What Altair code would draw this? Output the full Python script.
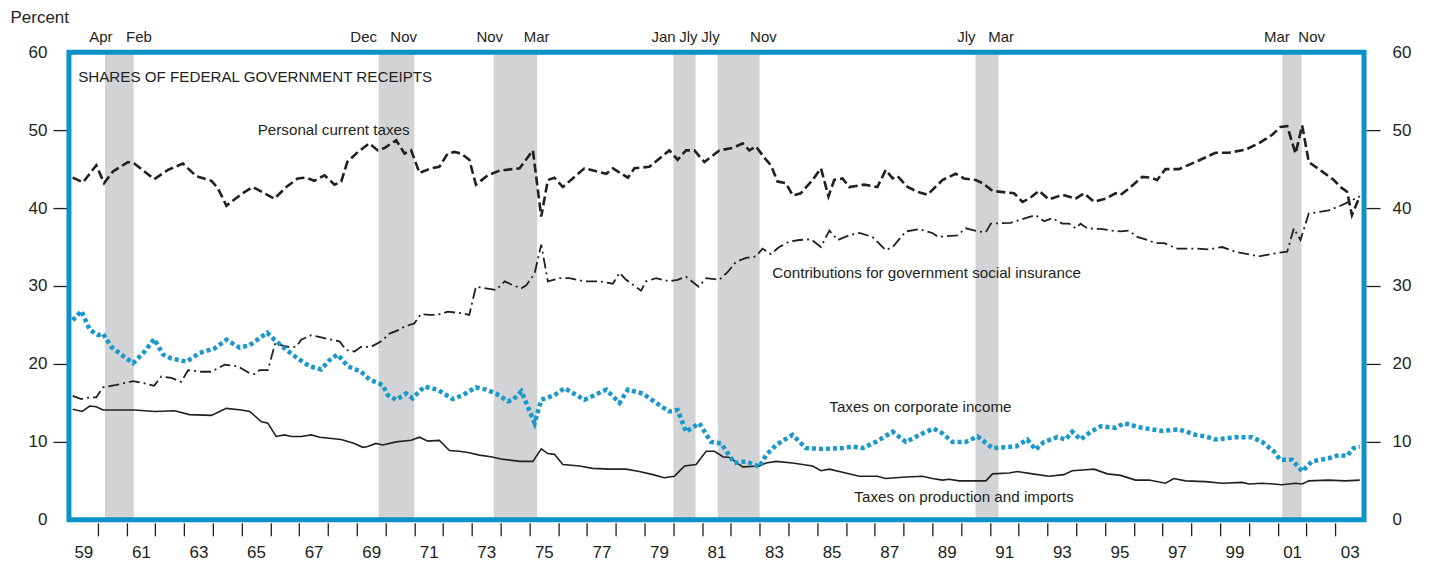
import altair as alt
import pandas as pd

INK = "#231f20"
BLUE = "#0b93c9"
DOT_BLUE = "#1898cd"
GRAY = "#d1d3d4"
NUM_FONT = "Liberation Sans, Arial, sans-serif"
TXT_FONT = "Liberation Sans, Arial, sans-serif"

# ---------------- data ----------------
personal_years = [1959.13, 1959.49, 1959.95, 1960.22, 1960.53, 1961.05, 1961.28, 1961.96, 1962.44, 1962.96,
                  1963.42, 1963.95, 1964.18, 1964.47, 1964.99, 1965.39, 1966.14, 1966.55, 1966.95, 1967.24,
                  1967.53, 1967.88, 1968.23, 1968.46, 1968.67, 1969.04, 1969.44, 1969.73, 1969.96, 1970.37,
                  1970.66, 1970.89, 1971.18, 1971.58, 1971.87, 1972.16, 1972.39, 1972.62, 1972.91, 1973.14,
                  1973.55, 1973.96, 1974.66, 1975.12, 1975.41, 1975.64, 1975.87, 1976.16, 1976.91, 1977.67,
                  1977.90, 1978.42, 1978.65, 1979.17, 1979.86, 1980.15, 1980.44, 1980.73, 1981.08, 1981.60,
                  1982.06, 1982.41, 1982.64, 1982.87, 1983.22, 1983.39, 1983.62, 1983.91, 1984.15, 1984.43,
                  1984.84, 1985.13, 1985.39, 1985.59, 1985.88, 1986.11, 1986.63, 1987.09, 1987.38, 1987.62,
                  1987.79, 1988.14, 1988.48, 1988.83, 1989.35, 1989.81, 1990.10, 1990.51, 1990.74, 1991.09,
                  1991.55, 1991.84, 1992.13, 1992.36, 1992.71, 1993.05, 1993.52, 1993.98, 1994.27, 1994.62,
                  1995.02, 1995.37, 1995.54, 1995.83, 1996.29, 1996.58, 1996.81, 1997.10, 1997.57, 1998.14,
                  1998.84, 1999.30, 1999.88, 2000.34, 2000.81, 2001.09, 2001.33, 2001.62, 2001.85, 2002.08,
                  2002.54, 2002.95, 2003.18, 2003.41, 2003.58, 2003.85]
personal_vals = [43.9, 43.3, 45.5, 43.2, 44.7, 45.9, 45.7, 43.7, 44.9, 45.7,
                 44.1, 43.5, 42.5, 40.3, 41.8, 42.7, 41.2, 42.7, 43.8, 43.9,
                 43.5, 44.2, 43.0, 43.4, 45.9, 47.2, 48.3, 47.4, 47.7, 48.7,
                 47.0, 47.4, 44.5, 45.1, 45.3, 47.0, 47.2, 47.0, 46.2, 43.0,
                 44.2, 44.8, 45.1, 47.4, 38.9, 43.6, 43.9, 42.7, 45.1, 44.4,
                 45.1, 43.9, 45.1, 45.3, 47.4, 46.2, 47.4, 47.4, 45.9, 47.4,
                 47.7, 48.3, 47.4, 47.9, 46.2, 45.5, 43.4, 43.2, 41.6, 41.9,
                 43.6, 45.1, 41.5, 43.6, 43.8, 42.7, 43.0, 42.7, 44.9, 43.8,
                 44.1, 42.7, 42.1, 41.7, 43.6, 44.4, 43.8, 43.6, 43.2, 42.2,
                 42.0, 41.9, 40.8, 41.2, 42.2, 41.1, 41.7, 41.2, 41.9, 40.8,
                 41.2, 41.9, 41.7, 42.5, 44.0, 43.9, 43.6, 45.0, 45.0, 45.9,
                 47.1, 47.1, 47.5, 48.3, 49.4, 50.4, 50.5, 47.0, 50.6, 45.9,
                 44.7, 43.6, 42.7, 42.1, 39.1, 41.5]

contrib_years = [1959.13, 1959.43, 1959.72, 1959.95, 1960.18, 1960.65, 1961.23, 1961.63, 1961.96, 1962.21,
                 1962.56, 1962.90, 1963.14, 1963.60, 1963.95, 1964.41, 1964.87, 1965.28, 1965.45, 1965.62,
                 1965.91, 1966.17, 1966.37, 1966.61, 1966.90, 1967.07, 1967.42, 1967.88, 1968.40, 1968.63,
                 1968.92, 1969.15, 1969.50, 1969.85, 1970.14, 1970.48, 1970.66, 1971.00, 1971.23, 1971.52,
                 1971.81, 1972.16, 1972.68, 1972.91, 1973.14, 1973.49, 1973.84, 1974.14, 1974.43, 1974.72,
                 1974.89, 1975.18, 1975.41, 1975.64, 1976.05, 1976.39, 1976.91, 1977.43, 1977.90, 1978.13,
                 1978.36, 1978.88, 1979.05, 1979.40, 1979.86, 1980.15, 1980.44, 1980.88, 1981.14, 1981.60,
                 1981.89, 1982.18, 1982.53, 1982.87, 1983.10, 1983.39, 1983.68, 1984.03, 1984.38, 1984.78,
                 1985.13, 1985.42, 1985.71, 1986.11, 1986.46, 1986.92, 1987.38, 1987.62, 1988.08, 1988.54,
                 1989.00, 1989.20, 1989.87, 1990.16, 1990.62, 1990.86, 1991.03, 1991.72, 1992.24, 1992.59,
                 1992.88, 1993.17, 1993.52, 1993.75, 1993.98, 1994.15, 1994.38, 1994.91, 1995.25, 1995.54,
                 1995.83, 1996.12, 1996.47, 1996.76, 1997.05, 1997.51, 1998.15, 1998.61, 1999.07, 1999.53,
                 2000.34, 2000.92, 2001.33, 2001.56, 2001.79, 2002.08, 2002.77, 2003.18, 2003.47, 2003.85]
contrib_vals = [15.9, 15.5, 15.7, 15.7, 17.0, 17.3, 17.8, 17.5, 17.2, 18.4,
                18.2, 17.7, 19.2, 19.0, 19.0, 19.9, 19.7, 18.8, 18.7, 19.2,
                19.2, 22.7, 22.4, 22.2, 22.2, 23.1, 23.7, 23.3, 22.9, 21.8,
                21.6, 22.2, 22.2, 22.9, 23.9, 24.4, 24.8, 25.2, 26.4, 26.3,
                26.3, 26.7, 26.5, 26.3, 29.9, 29.7, 29.5, 30.6, 30.1, 29.7,
                30.1, 31.6, 35.3, 30.6, 31.0, 31.0, 30.6, 30.6, 30.3, 31.7,
                30.8, 29.4, 30.6, 31.0, 30.6, 30.8, 31.2, 29.9, 31.0, 30.8,
                31.8, 33.1, 33.6, 33.8, 34.8, 34.1, 35.0, 35.7, 35.9, 36.0,
                35.0, 37.1, 35.9, 36.5, 36.8, 36.3, 34.6, 35.0, 37.0, 37.3,
                36.8, 36.3, 36.5, 37.4, 37.0, 36.9, 38.0, 38.1, 38.7, 39.1,
                38.3, 38.7, 38.0, 38.0, 37.4, 38.0, 37.4, 37.3, 37.1, 37.0,
                37.1, 36.3, 35.9, 35.5, 35.5, 34.8, 34.8, 34.7, 35.0, 34.4,
                33.8, 34.2, 34.4, 37.4, 35.9, 39.3, 39.7, 40.3, 40.8, 41.5]

corp_years = [1959.13, 1959.43, 1959.72, 1960.01, 1960.18, 1960.47, 1960.82, 1961.23, 1961.63, 1961.96,
              1962.27, 1962.56, 1963.08, 1963.54, 1964.06, 1964.47, 1964.93, 1965.28, 1965.62, 1965.89,
              1966.14, 1966.49, 1966.95, 1967.36, 1967.76, 1968.11, 1968.34, 1968.69, 1969.15, 1969.44,
              1969.90, 1970.08, 1970.37, 1970.71, 1970.94, 1971.35, 1971.81, 1972.33, 1972.68, 1973.14,
              1973.49, 1973.84, 1974.25, 1974.43, 1974.72, 1975.18, 1975.41, 1975.87, 1976.22, 1976.91,
              1977.67, 1978.13, 1978.42, 1978.94, 1979.40, 1979.86, 1980.15, 1980.44, 1980.90, 1981.31,
              1981.66, 1982.12, 1982.53, 1982.99, 1983.22, 1983.57, 1984.14, 1984.61, 1985.19, 1985.88,
              1986.23, 1986.58, 1987.04, 1987.62, 1988.08, 1988.77, 1989.05, 1989.35, 1989.70, 1990.16,
              1990.57, 1991.09, 1991.90, 1992.30, 1992.59, 1992.88, 1993.34, 1993.63, 1993.86, 1994.15,
              1994.50, 1994.85, 1995.37, 1995.66, 1996.29, 1996.99, 1997.57, 1998.15, 1998.49, 1998.84,
              1999.53, 2000.11, 2000.46, 2000.86, 2001.09, 2001.50, 2001.85, 2002.19, 2002.77, 2003.12,
              2003.41, 2003.64, 2003.85]
corp_vals = [25.6, 26.8, 24.4, 23.7, 23.9, 22.2, 21.2, 20.1, 21.6, 23.2,
             21.2, 20.7, 20.3, 21.4, 22.0, 23.1, 22.1, 22.4, 23.3, 24.0,
             23.1, 22.0, 20.7, 19.7, 19.3, 20.7, 21.2, 19.7, 19.0, 18.0,
             17.3, 16.0, 15.4, 16.2, 15.6, 17.1, 16.7, 15.5, 16.0, 17.0,
             16.7, 16.2, 15.2, 15.4, 16.5, 12.4, 15.4, 16.0, 16.9, 15.4,
             16.7, 15.0, 16.7, 16.2, 15.0, 13.9, 14.1, 11.3, 12.4, 10.0,
             9.8, 7.3, 7.5, 6.8, 8.3, 9.6, 10.9, 9.2, 9.1, 9.2,
             9.4, 9.2, 10.0, 11.3, 10.0, 11.3, 11.7, 11.1, 10.0, 10.0,
             10.7, 9.2, 9.4, 10.3, 9.0, 10.0, 10.6, 10.3, 11.3, 10.3,
             11.3, 12.0, 11.8, 12.4, 11.8, 11.4, 11.6, 10.9, 10.7, 10.3,
             10.6, 10.6, 10.0, 8.8, 7.7, 7.7, 6.2, 7.5, 7.9, 8.3,
             8.2, 9.2, 9.4]

prod_years = [1959.13, 1959.46, 1959.72, 1959.95, 1960.18, 1961.28, 1961.98, 1962.67, 1963.19, 1963.95,
              1964.18, 1964.47, 1964.99, 1965.28, 1965.68, 1965.91, 1966.20, 1966.49, 1966.72, 1967.07,
              1967.42, 1967.71, 1968.46, 1968.92, 1969.21, 1969.38, 1969.67, 1969.90, 1970.37, 1970.89,
              1971.18, 1971.47, 1971.87, 1972.22, 1972.56, 1972.91, 1973.26, 1973.66, 1974.01, 1974.66,
              1975.12, 1975.41, 1975.64, 1975.87, 1976.16, 1976.74, 1977.20, 1977.78, 1978.36, 1978.82,
              1979.29, 1979.69, 1980.04, 1980.39, 1980.79, 1981.14, 1981.43, 1981.72, 1981.95, 1982.41,
              1982.99, 1983.22, 1983.57, 1984.14, 1984.84, 1985.13, 1985.42, 1985.99, 1986.46, 1986.86,
              1987.09, 1987.38, 1988.08, 1988.66, 1989.00, 1989.35, 1989.58, 1989.93, 1990.86, 1991.09,
              1991.67, 1991.95, 1992.48, 1993.05, 1993.57, 1993.86, 1994.21, 1994.62, 1995.08, 1995.54,
              1996.06, 1996.53, 1997.10, 1997.39, 1997.80, 1998.49, 1999.07, 1999.77, 2000.00, 2000.46,
              2001.15, 2001.62, 2001.85, 2002.08, 2002.77, 2003.35, 2003.85]
prod_vals = [14.2, 13.9, 14.6, 14.5, 14.1, 14.1, 13.9, 14.0, 13.5, 13.4,
             13.8, 14.3, 14.1, 13.9, 12.6, 12.4, 10.7, 10.9, 10.7, 10.7,
             10.9, 10.6, 10.3, 9.8, 9.3, 9.4, 9.8, 9.6, 10.0, 10.2,
             10.6, 10.1, 10.2, 8.9, 8.8, 8.6, 8.3, 8.1, 7.8, 7.5,
             7.5, 9.1, 8.5, 8.4, 7.1, 6.9, 6.6, 6.5, 6.5, 6.2,
             5.8, 5.4, 5.6, 6.9, 7.1, 8.8, 8.8, 8.1, 8.0, 6.8,
             6.9, 7.3, 7.5, 7.3, 6.9, 6.3, 6.5, 6.0, 5.6, 5.6,
             5.6, 5.3, 5.5, 5.6, 5.3, 5.1, 5.2, 5.0, 5.0, 5.9,
             6.0, 6.2, 5.9, 5.6, 5.8, 6.3, 6.4, 6.5, 5.9, 5.7,
             5.1, 5.1, 4.7, 5.3, 5.0, 4.9, 4.7, 4.8, 4.6, 4.7,
             4.5, 4.7, 4.6, 5.0, 5.1, 5.0, 5.1]

recession_start = [1960.25, 1969.76, 1973.76, 1980.00, 1981.54, 1990.50, 2001.16]
recession_end = [1961.25, 1971.00, 1975.27, 1980.77, 1983.00, 1991.30, 2001.83]
month_labels = ["Apr", "Feb", "Dec", "Nov", "Nov", "Mar", "Jan", "Jly", "Jly", "Nov", "Jly", "Mar", "Mar", "Nov"]
month_label_year = [1960.11, 1961.43, 1969.24, 1970.63, 1973.62, 1975.25, 1979.66, 1980.52,
                    1981.29, 1983.13, 1990.18, 1991.39, 2000.97, 2002.18]

series_labels = ["SHARES OF FEDERAL GOVERNMENT RECEIPTS", "Personal current taxes",
                 "Contributions for government social insurance", "Taxes on corporate income",
                 "Taxes on production and imports"]
series_label_year = [1959.32, 1965.56, 1983.44, 1985.42, 1986.29]
series_label_pct = [56.8, 50.0, 31.7, 14.5, 2.95]

X_DOMAIN = [1959, 2004]
Y_DOMAIN = [0, 60]
y_values = [0, 10, 20, 30, 40, 50, 60]
x_tick_years = list(range(1960, 2004))
x_label_years = [y + 0.5 for y in range(1959, 2004, 2)]

# ---------------- chart ----------------
XS = alt.Scale(domain=X_DOMAIN, nice=False, zero=False)
YS = alt.Scale(domain=Y_DOMAIN, nice=False, zero=True)

band_df = pd.DataFrame({"start": recession_start, "end": recession_end})
month_df = pd.DataFrame({"label": month_labels, "year": month_label_year, "pct": [61.9] * len(month_labels)})
text_df = pd.DataFrame({"label": series_labels, "year": series_label_year, "pct": series_label_pct})
frame_df = pd.DataFrame({"x0": [X_DOMAIN[0]], "x1": [X_DOMAIN[1]], "y0": [Y_DOMAIN[0]], "y1": [Y_DOMAIN[1]]})

x_axis = alt.Axis(
    orient="bottom", values=sorted(x_tick_years + x_label_years), domain=False, grid=False,
    offset=3, tickSize=13, tickWidth=1.3, tickColor=INK,
    tickOpacity={"condition": {"test": "datum.value % 1 === 0", "value": 1}, "value": 0},
    labelExpr="datum.value % 1 === 0 ? '' : ((floor(datum.value) % 100 < 10 ? '0' : '') + (floor(datum.value) % 100))",
    labelFont=NUM_FONT, labelFontSize=17, labelColor=INK, labelPadding=9,
    labelOverlap=False, labelFlush=False, title=None,
)

y_tick_opacity = {"condition": {"test": "datum.value > 0 && datum.value < 60", "value": 1}, "value": 0}
y_left = alt.Axis(
    orient="left", values=y_values, domain=False, grid=False, offset=2, tickSize=14,
    tickWidth=1.3, tickColor=INK, tickOpacity=y_tick_opacity,
    labelFont=NUM_FONT, labelFontSize=17, labelColor=INK, labelPadding=6,
    title="Percent", titleAngle=0, titleAlign="left", titleBaseline="middle",
    titleX=-57, titleY=-35, titleFont=NUM_FONT, titleFontSize=17, titleFontWeight="normal",
    titleColor=INK,
)
y_right = alt.Axis(
    orient="right", values=y_values, domain=False, grid=False, offset=2, tickSize=14,
    tickWidth=1.3, tickColor=INK, tickOpacity=y_tick_opacity,
    labelFont=NUM_FONT, labelFontSize=17, labelColor=INK, labelPadding=12, title=None,
)

bands = alt.Chart(band_df).mark_rect(color=GRAY).encode(
    x=alt.X("start:Q", scale=XS, axis=x_axis),
    x2="end:Q",
)


def line_layer(years, vals, axis, **mark_kw):
    df = pd.DataFrame({"year": years, "pct": vals})
    return alt.Chart(df).mark_line(**mark_kw).encode(
        x=alt.X("year:Q", scale=XS, axis=None),
        y=alt.Y("pct:Q", scale=YS, axis=axis),
    )


prod = line_layer(prod_years, prod_vals, y_right, color=INK, strokeWidth=1.6)
contrib = line_layer(contrib_years, contrib_vals, None, color=INK, strokeWidth=1.8,
                     strokeDash=[11, 4, 2, 4])
corp = line_layer(corp_years, corp_vals, None, color=DOT_BLUE, strokeWidth=4.5,
                  strokeDash=[4, 3])
personal = line_layer(personal_years, personal_vals, y_left, color=INK, strokeWidth=2.6,
                      strokeDash=[9, 4])

texts = alt.Chart(text_df).mark_text(
    align="left", baseline="middle", font=TXT_FONT, fontSize=15.2, color=INK
).encode(
    x=alt.X("year:Q", scale=XS, axis=None),
    y=alt.Y("pct:Q", scale=YS, axis=None),
    text="label:N",
)

months = alt.Chart(month_df).mark_text(
    align="center", baseline="middle", font=TXT_FONT, fontSize=15, color=INK
).encode(
    x=alt.X("year:Q", scale=XS, axis=None),
    y=alt.Y("pct:Q", scale=YS, axis=None),
    text="label:N",
)

frame = alt.Chart(frame_df).mark_rect(fillOpacity=0, stroke=BLUE, strokeWidth=5).encode(
    x=alt.X("x0:Q", scale=XS, axis=None),
    x2="x1:Q",
    y=alt.Y("y0:Q", scale=YS, axis=None),
    y2="y1:Q",
)

chart = (
    alt.layer(bands, prod, contrib, corp, personal, texts, months, frame)
    .resolve_axis(x="independent", y="independent")
    .properties(
        width=1296, height=468,
        padding={"left": 61, "top": 44, "right": 60, "bottom": 45},
        autosize=alt.AutoSizeParams(type="none"),
        background="white",
    )
    .configure_view(strokeWidth=0)
)

chart.save("out.html", embed_options={"renderer": "svg", "actions": False})
